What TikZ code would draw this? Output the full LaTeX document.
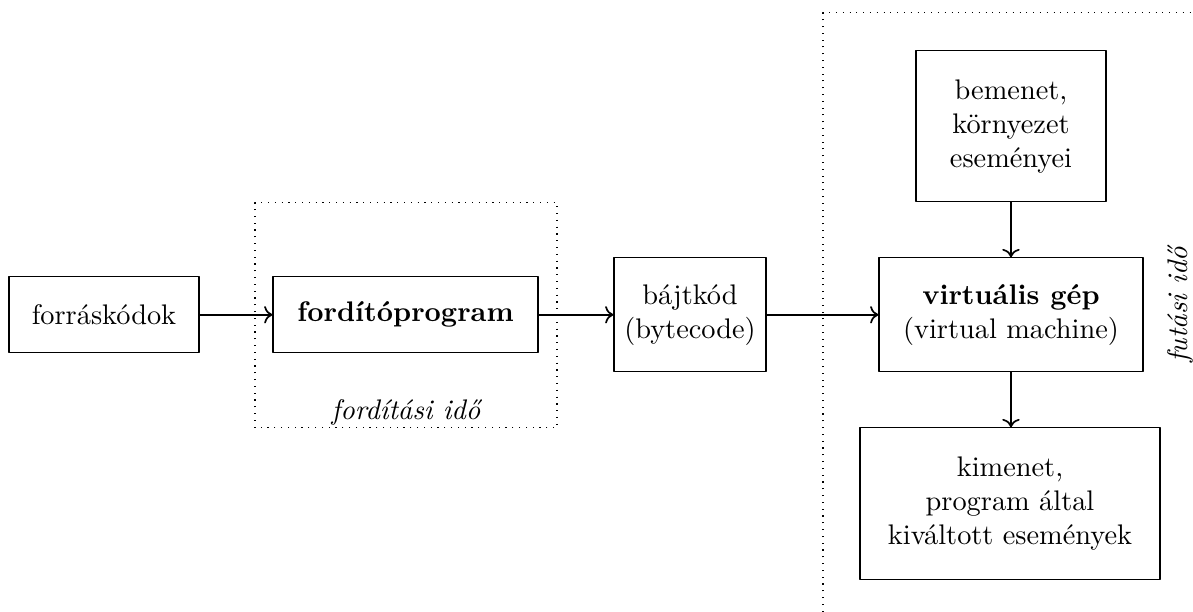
\documentclass[tikz,border=0pt]{standalone}
\usepackage{fontspec}
\usetikzlibrary{arrows.meta}

\begin{document}
\begin{tikzpicture}[line join=round,
  box/.style={draw, align=center, inner sep=0pt},
  link/.style={semithick, -{To}}]
\useasboundingbox (0,0) rectangle (14.80,7.59);
\node[box, minimum width=2.357cm, minimum height=0.943cm] (S) at (1.290,3.685) {forráskódok};
\node[box, minimum width=3.288cm, minimum height=0.943cm] (C) at (5.031,3.685) {\bfseries fordítóprogram};
\node[box, minimum width=1.886cm, minimum height=1.414cm] (B) at (8.560,3.685) {bájtkód\\(bytecode)};
\node[box, minimum width=3.275cm, minimum height=1.414cm] (V) at (12.542,3.685) {\textbf{virtuális gép}\\(virtual machine)};
\node[box, minimum width=2.357cm, minimum height=1.873cm] (I) at (12.542,6.023) {bemenet,\\környezet\\eseményei};
\node[box, minimum width=3.722cm, minimum height=1.886cm] (O) at (12.530,1.340) {kimenet,\\program által\\kiváltott események};
% fordítási idő
\draw[dotted] (3.164,2.283) rectangle (6.910,5.074);
\node[anchor=base] (TC) at (5.037,2.382) {\itshape fordítási idő};
% futási idő
\draw[dotted] (10.210,0) -- (10.210,7.431) -- (14.80,7.431);
\node[rotate=90] (TR) at (14.639,3.809) {\itshape futási idő};
\draw[link] (S) -- (C);
\draw[link] (C) -- (B);
\draw[link] (B) -- (V);
\draw[link] (I) -- (V);
\draw[link] (V.south) -- (V.south |- O.north);
\end{tikzpicture}
\end{document}
